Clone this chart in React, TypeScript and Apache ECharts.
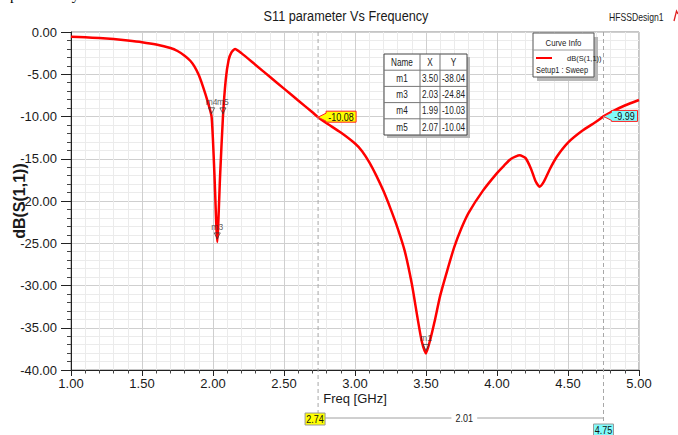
import React, { useEffect, useRef } from "react";
import * as echarts from "echarts";

// Return loss sweep, dB(S(1,1)) against frequency in GHz
const freqGHz = [
  1.0, 1.1, 1.2, 1.3, 1.4, 1.5, 1.6, 1.7, 1.75, 1.8, 1.84, 1.87, 1.9, 1.93, 1.96,
  1.99, 2.01, 2.03, 2.05, 2.07, 2.09, 2.11, 2.13, 2.155, 2.2, 2.3, 2.4, 2.5, 2.6,
  2.7, 2.74, 2.8, 2.9, 3.0, 3.05, 3.1, 3.15, 3.2, 3.25, 3.3, 3.35, 3.4, 3.44, 3.47,
  3.5, 3.53, 3.56, 3.6, 3.65, 3.7, 3.75, 3.8, 3.9, 4.0, 4.05, 4.1, 4.16, 4.2, 4.24,
  4.27, 4.3, 4.33, 4.37, 4.42, 4.5, 4.6, 4.7, 4.75, 4.8, 4.9, 5.0,
];
const s11dB = [
  -0.55, -0.62, -0.72, -0.84, -1.0, -1.2, -1.48, -1.9, -2.25, -2.8, -3.4, -4.1, -5.1,
  -6.5, -8.1, -10.03, -16.8, -24.84, -17.0, -10.04, -5.6, -3.3, -2.4, -2.0, -2.5,
  -3.9, -5.3, -6.7, -8.1, -9.5, -10.08, -10.8, -11.9, -13.2, -14.1, -15.4, -17.0,
  -18.8, -20.9, -23.2, -25.9, -29.8, -33.8, -36.6, -38.04, -36.4, -34.3, -31.2,
  -28.2, -25.4, -23.2, -21.4, -18.8, -16.7, -15.8, -15.0, -14.6, -14.9, -16.2,
  -17.6, -18.3, -17.7, -16.3, -14.8, -13.1, -11.7, -10.6, -9.99, -9.5, -8.7, -8.05,
];

// Named markers
const markerNames = ["m1", "m3", "m4", "m5"];
const markerFreq = [3.5, 2.03, 1.99, 2.07];
const markerDb = [-38.04, -24.84, -10.03, -10.04];

// Two frequency cursors with their readouts
const cursorFreq = [2.74, 4.75];
const cursorDb = [-10.08, -9.99];
const cursorFill = ["#ffff00", "#80fbfb"];

// Axis ranges and steps
const xMin = 1, xMax = 5, xStep = 0.5;
const yMin = -40, yMax = 0, yStep = 5;

const SANS = "'Liberation Sans', Arial, sans-serif";
const NARROW = 0.82; // horizontal squeeze for the condensed lettering
const SERIES_NAME = "dB(S(1,1))";

export default function App() {
  const ref = useRef<HTMLDivElement>(null);

  useEffect(() => {
    const el = ref.current;
    if (!el) return;
    const chart = echarts.init(el, undefined, { renderer: "svg" });
    const curve = freqGHz.map((f, i) => [f, s11dB[i]]);
    const markers = markerNames.map((n, i) => ({ name: n, value: [markerFreq[i], markerDb[i]] }));

    chart.setOption({
      animation: false,
      backgroundColor: "#ffffff",
      textStyle: { fontFamily: SANS },
      legend: {
        data: [{ name: SERIES_NAME }],
        left: 536,
        top: 54,
        padding: 0,
        icon: "rect",
        itemWidth: 16,
        itemHeight: 2,
        z: 20,
        textStyle: { fontFamily: SANS, fontSize: 7.5, color: "#222", padding: [0, 0, 0, 10] },
      },
      grid: {
        left: 71,
        top: 32,
        width: 568,
        height: 338,
        outerBoundsMode: "none",
        containLabel: false,
        show: true,
        borderColor: "#8a8a8a",
        borderWidth: 1,
        backgroundColor: "transparent",
      },
      xAxis: {
        type: "value",
        min: xMin,
        max: xMax,
        interval: xStep,
        name: "Freq [GHz]",
        nameLocation: "middle",
        nameGap: 22,
        nameMoveOverlap: false,
        nameTextStyle: { fontFamily: SANS, fontSize: 13, color: "#1a1a1a" },
        axisLine: { show: true, onZero: false, lineStyle: { color: "#222", width: 1 } },
        axisTick: { show: true, length: 6, lineStyle: { color: "#222" } },
        minorTick: { show: true, splitNumber: 5, length: 3.5, lineStyle: { color: "#444" } },
        axisLabel: {
          margin: 7,
          fontFamily: SANS,
          fontSize: 13,
          color: "#1a1a1a",
          formatter: (v: number) => v.toFixed(2),
        },
        splitLine: { show: true, lineStyle: { color: "#cfcfcf", width: 1 } },
        minorSplitLine: { show: true, lineStyle: { color: "#ebebeb", width: 1 } },
      },
      yAxis: {
        type: "value",
        min: yMin,
        max: yMax,
        interval: yStep,
        name: "dB(S(1,1))",
        nameLocation: "middle",
        nameGap: 44,
        nameMoveOverlap: false,
        nameTextStyle: { fontFamily: SANS, fontSize: 16, fontWeight: "bold", color: "#1a1a1a" },
        axisLine: { show: true, onZero: false, lineStyle: { color: "#222", width: 1 } },
        axisTick: { show: true, length: 10, lineStyle: { color: "#222" } },
        minorTick: { show: true, splitNumber: 5, length: 4, lineStyle: { color: "#444" } },
        axisLabel: {
          margin: 14,
          fontFamily: SANS,
          fontSize: 13,
          color: "#1a1a1a",
          formatter: (v: number) => v.toFixed(2),
        },
        splitLine: { show: true, lineStyle: { color: "#cfcfcf", width: 1 } },
        minorSplitLine: { show: true, lineStyle: { color: "#ebebeb", width: 1 } },
      },
      series: [
        {
          type: "line",
          name: SERIES_NAME,
          data: curve,
          symbol: "none",
          showSymbol: false,
          smooth: 0.2,
          lineStyle: { color: "#ff0000", width: 2.5 },
          itemStyle: { color: "#ff0000" },
          z: 3,
        },
        {
          type: "scatter",
          name: "markers",
          data: markers,
          symbol: "triangle",
          symbolRotate: 180,
          symbolSize: [6, 6],
          symbolOffset: [0, -6],
          itemStyle: { color: "rgba(0,0,0,0)", borderColor: "#333", borderWidth: 0.9 },
          label: {
            show: true,
            position: "top",
            distance: 1,
            formatter: "{b}",
            fontFamily: SANS,
            fontSize: 8.5,
            color: "#333",
          },
          z: 5,
        },
      ],
    });

    const toPx = (x: number, y: number) => chart.convertToPixel({ gridIndex: 0 }, [x, y]) as number[];
    const g: any[] = [];
    const label = (text: string, x: number, y: number, size: number, extra: any = {}, z = 15) => ({
      type: "text", x, y, z, scaleX: NARROW,
      style: { text, font: `${size}px ${SANS}`, fill: "#1a1a1a", verticalAlign: "middle", ...extra },
    });

    // Title, design name and page remnants
    g.push(label("S11 parameter Vs Frequency", 346, 16, 15.5, { align: "center" }, 30));
    g.push(label("HFSSDesign1", 609, 17, 10.5, {}, 30));
    g.push({
      type: "polyline", z: 30,
      shape: { points: [[674, 21], [676.5, 11], [678, 14]] },
      style: { stroke: "#e02020", lineWidth: 1.3, fill: "none" },
    });
    g.push({
      type: "text", x: 10, y: -5, z: 30,
      style: { text: "particularly", font: "15px 'Liberation Serif', serif", fill: "#000", verticalAlign: "middle" },
    });

    // Curve info box
    const lb = { x: 533, y: 33, w: 61, h: 44 };
    g.push({ type: "rect", z: 10, shape: { x: lb.x + 4, y: lb.y + 4, width: lb.w, height: lb.h }, style: { fill: "#b8b8b8" } });
    g.push({ type: "rect", z: 11, shape: { x: lb.x, y: lb.y, width: lb.w, height: lb.h }, style: { fill: "#fff", stroke: "#555", lineWidth: 1 } });
    g.push({ type: "line", z: 12, shape: { x1: lb.x, y1: lb.y + 17, x2: lb.x + lb.w, y2: lb.y + 17 }, style: { stroke: "#999", lineWidth: 1 } });
    g.push(label("Curve Info", lb.x + lb.w / 2, lb.y + 9.5, 9.5, { align: "center", fill: "#222" }, 12));
    g.push(label("Setup1 : Sweep", 536, 70, 9, { fill: "#222" }, 12));

    // Marker table
    const tx = 384, ty = 54;
    const colW = [36, 20, 27];
    const rowH = 16.2;
    const rows = [["Name", "X", "Y"], ...markerNames.map((n, i) => [n, markerFreq[i].toFixed(2), markerDb[i].toFixed(2)])];
    const tw = colW.reduce((a, b) => a + b, 0);
    const th = rowH * rows.length;
    g.push({ type: "rect", z: 10, shape: { x: tx + 3, y: ty + 3, width: tw, height: th }, style: { fill: "#b8b8b8" } });
    g.push({ type: "rect", z: 11, shape: { x: tx, y: ty, width: tw, height: th }, style: { fill: "#fff", stroke: "#444", lineWidth: 1 } });
    for (let r = 1; r < rows.length; r++) {
      g.push({ type: "line", z: 12, shape: { x1: tx, y1: ty + r * rowH, x2: tx + tw, y2: ty + r * rowH }, style: { stroke: "#777", lineWidth: 1 } });
    }
    let cx = tx;
    for (let c = 0; c < colW.length; c++) {
      if (c > 0) g.push({ type: "line", z: 12, shape: { x1: cx, y1: ty, x2: cx, y2: ty + th }, style: { stroke: "#777", lineWidth: 1 } });
      rows.forEach((row, r) => {
        g.push(label(row[c], cx + colW[c] / 2, ty + r * rowH + rowH / 2 + 0.5, 10, { align: "center", fill: "#222" }, 13));
      });
      cx += colW[c];
    }

    // Frequency cursors
    const plotTop = toPx(xMin, yMax)[1];
    const cursorPx = cursorFreq.map((f, i) => toPx(f, cursorDb[i]));
    const boxTop = [413, 424];
    const boxW = [20, 20];
    const boxShift = [-3, 0];
    cursorPx.forEach((p, i) => {
      g.push({
        type: "line", z: 6,
        shape: { x1: p[0], y1: plotTop, x2: p[0], y2: boxTop[i] },
        style: { stroke: "#a8a8a8", lineWidth: 1, lineDash: [4, 3] },
      });
      // readout box with a pointer to the curve
      const L = p[0] + 8, w = i === 0 ? 30 : 26, h = 11, T = p[1] - 6;
      g.push({
        type: "polygon", z: 14,
        shape: { points: [[p[0], p[1]], [L, p[1] - 4], [L, T], [L + w, T], [L + w, T + h], [L, T + h], [L, p[1] + 4]] },
        style: { fill: cursorFill[i], stroke: "#ff2020", lineWidth: 1 },
      });
      g.push(label(cursorDb[i].toFixed(2), L + w / 2, T + h / 2 + 0.5, 11, { align: "center", fill: "#111" }));
      // frequency tag under the axis
      const bx = p[0] - boxW[i] / 2 + boxShift[i];
      g.push({
        type: "rect", z: 14,
        shape: { x: bx, y: boxTop[i], width: boxW[i], height: 12 },
        style: { fill: cursorFill[i], stroke: "#9a9a9a", lineWidth: 1 },
      });
      g.push(label(cursorFreq[i].toFixed(2), bx + boxW[i] / 2, boxTop[i] + 6.5, 11, { align: "center", fill: "#111" }));
    });
    const dy = 418;
    const dx1 = cursorPx[0][0] - boxW[0] / 2 + boxShift[0] + boxW[0];
    const dx2 = cursorPx[1][0];
    g.push({ type: "line", z: 6, shape: { x1: dx1, y1: dy, x2: dx2, y2: dy }, style: { stroke: "#a0a0a0", lineWidth: 1 } });
    g.push(label((cursorFreq[1] - cursorFreq[0]).toFixed(2), (dx1 + dx2) / 2, dy + 0.5, 11, {
      align: "center", fill: "#222", backgroundColor: "#fff", padding: [0, 5],
    }, 7));

    chart.setOption({ graphic: g });

    return () => chart.dispose();
  }, []);

  return <div ref={ref} style={{ position: "fixed", left: 0, top: 0, width: 678, height: 435 }} />;
}
